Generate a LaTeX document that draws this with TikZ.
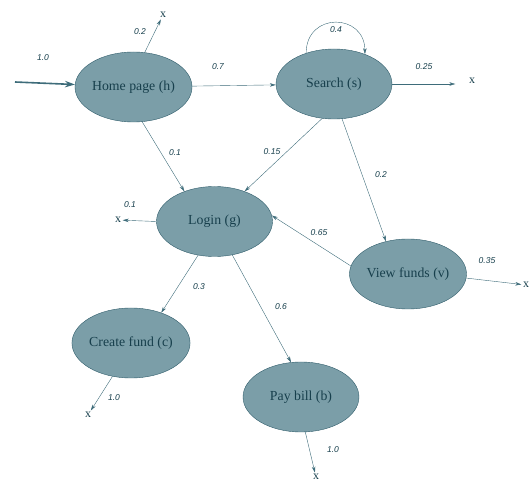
\documentclass[tikz,border=0pt]{standalone}
\usepackage{fontspec}
\setmainfont{Liberation Serif}
\setsansfont{Liberation Sans}
\usepackage{tikz}
\usetikzlibrary{arrows.meta, shapes.geometric, positioning}

\definecolor{statefill}{HTML}{7B9EA8}
\definecolor{stateline}{HTML}{2F5C6A}
\definecolor{statetext}{HTML}{173F4C}
\definecolor{edgecol}{HTML}{3E6C7A}

\tikzset{
  state/.style={ellipse, draw=stateline, fill=statefill, text=statetext,
    minimum width=116pt, minimum height=70pt, inner sep=0pt,
    font=\fontsize{13.8}{16}\selectfont},
  exit/.style={inner sep=1.5pt, text=statetext, font=\fontsize{12}{14}\selectfont},
  prob/.style={text=statetext, font=\sffamily\itshape\fontsize{8.5}{10}\selectfont},
  trans/.style={draw=edgecol, -{Stealth[length=6pt,width=3.5pt]}}
}

\begin{document}
\begin{tikzpicture}[x=1pt, y=-1pt]
\useasboundingbox (0,0) rectangle (531,481);

% States
\node[state] (home) at (133.5,87) {Home page (h)};
\node[state] (search) at (334,84) {Search (s)};
\node[state] (login) at (214.5,221.5) {Login (g)};
\node[state] (view) at (408,274) {View funds (v)};
\node[state] (create) at (131,343) {Create fund (c)};
\node[state] (pay) at (301,397) {Pay bill (b)};

% Exits
\node[exit] (xh) at (163,15) {x};
\node[exit] (xs) at (472,81) {x};
\node[exit] (xg) at (118,220) {x};
\node[exit] (xv) at (526,285) {x};
\node[exit] (xc) at (88,415) {x};
\node[exit] (xb) at (316,477) {x};

% Entry
\coordinate (entry) at (15,82);
\draw[trans, line width=1.6pt, -{Stealth[length=10pt,width=6.5pt]}] (entry) -- (home);

% Transitions
\draw[trans] (home.72) -- (xh);
\draw[trans] (home) -- (search);
\draw[trans] (home.-76) -- (login.135);
\draw[trans] (search.132) to[out=90, in=90, looseness=1.8] (search.44);
\draw[trans] (search.0) -- ([xshift=-12pt]search.0 -| xs.west);
\draw[trans] (search.-109) -- (login.45);
\draw[trans] (search.-77) -- (view.124);
\draw[trans] (login.180) -- (xg);
\draw[trans] (login.-116) -- (create.45);
\draw[trans] (login.-62) -- (pay.106);
\draw[trans] (view.172) -- (login.6);
\draw[trans] (view.-4) -- (xv);
\draw[trans] (create.-119) -- (xc);
\draw[trans] (pay.-83) -- (xb);

% Probabilities
\node[prob] (p10) at (43,58) {1.0};
\node[prob] (phx) at (140,32) {0.2};
\node[prob] (phs) at (218,67) {0.7};
\node[prob] (phg) at (175,153) {0.1};
\node[prob] (pss) at (336,30) {0.4};
\node[prob] (psx) at (424,67) {0.25};
\node[prob] (psg) at (272,152) {0.15};
\node[prob] (psv) at (381,175) {0.2};
\node[prob] (pgx) at (130,205) {0.1};
\node[prob] (pvg) at (319,233) {0.65};
\node[prob] (pvx) at (487,261) {0.35};
\node[prob] (pgc) at (199,287) {0.3};
\node[prob] (pgb) at (281,307) {0.6};
\node[prob] (pcx) at (114,398) {1.0};
\node[prob] (pbx) at (333,450) {1.0};
\end{tikzpicture}
\end{document}
